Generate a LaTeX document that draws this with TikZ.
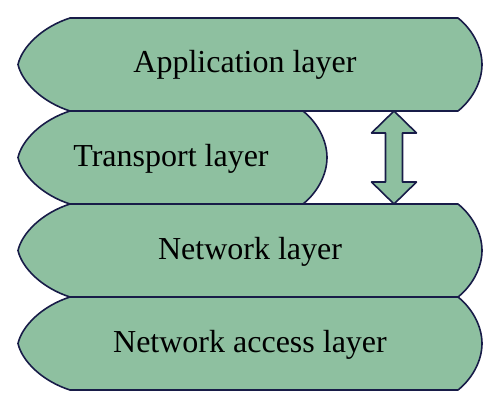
\documentclass[tikz,border=0pt]{standalone}
\usepackage{fontspec}
\setmainfont{Liberation Serif}
\usepackage{tikz}
\definecolor{layergreen}{RGB}{142,192,160}
\definecolor{layeredge}{RGB}{24,28,72}

\begin{document}
\begin{tikzpicture}[x=1pt,y=-1pt,
    layer/.style={fill=layergreen,draw=layeredge,line width=1.6pt,line join=round},
    lab/.style={anchor=base,font=\fontsize{32}{38}\selectfont}]
  \useasboundingbox (0,0) rectangle (500,409);
  \foreach \y/\r/\tx/\txt [count=\i] in {18/458/245/Application layer,
      111/303/171/Transport layer, 204/458/250/Network layer,
      297/458/250/Network access layer}{
    \draw[layer] (70,\y) -- (\r,\y)
      .. controls (\r+15,\y+12) and (\r+24,\y+30) .. (\r+24,\y+46.5)
      .. controls (\r+24,\y+63) and (\r+15,\y+81) .. (\r,\y+93)
      -- (70,\y+93)
      .. controls (42,\y+84) and (22,\y+64) .. (18,\y+46.5)
      .. controls (22,\y+29) and (42,\y+9) .. cycle;
    \node[lab] (layer\i) at (\tx,\y+55) {\txt};
  }
  % double arrow between application and network layer
  \coordinate (arrtop) at (394,111);
  \coordinate (arrbot) at (394,204);
  \draw[layer] (arrtop) -- (416.5,133) -- (402.5,133) -- (402.5,182)
    -- (416.5,182) -- (arrbot) -- (371.5,182) -- (385.5,182)
    -- (385.5,133) -- (371.5,133) -- cycle;
\end{tikzpicture}
\end{document}
